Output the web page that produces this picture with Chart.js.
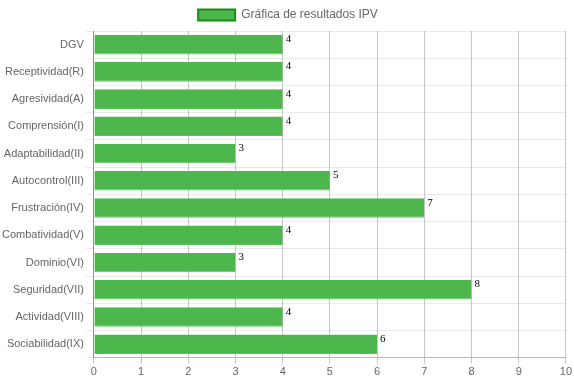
<!DOCTYPE html>
<html>
<head>
<meta charset="utf-8">
<script src="https://cdn.jsdelivr.net/npm/chart.js@4.4.0/dist/chart.umd.min.js"></script>
<style>
  html, body { margin: 0; padding: 0; background: #fff; }
  #wrap { width: 574px; height: 383px; }
</style>
</head>
<body>
<div id="wrap"><canvas id="ipvChart"></canvas></div>
<script>
const categories = ['DGV', 'Receptividad(R)', 'Agresividad(A)', 'Comprensión(I)', 'Adaptabilidad(II)',
    'Autocontrol(III)', 'Frustración(IV)', 'Combatividad(V)', 'Dominio(VI)', 'Seguridad(VII)',
    'Actividad(VIII)', 'Sociabilidad(IX)'];
const scores = [4, 4, 4, 4, 3, 5, 7, 4, 3, 8, 4, 6];
const seriesLabel = 'Gráfica de resultados IPV';

// writes the value just right of each bar end
const valueLabels = {
    id: 'valueLabels',
    afterDatasetsDraw(chart) {
        const ctx = chart.ctx;
        const meta = chart.getDatasetMeta(0);
        ctx.save();
        ctx.font = "11px 'Liberation Serif', serif";
        ctx.fillStyle = '#000';
        ctx.textBaseline = 'top';
        meta.data.forEach((bar, i) => {
            const top = bar.y - bar.height / 2;
            ctx.fillText(scores[i], bar.x + 3, top - 1);
        });
        ctx.restore();
    }
};

Chart.defaults.font.family = "'Liberation Sans', Arial, sans-serif";
Chart.defaults.font.size = 11;
Chart.defaults.color = '#666';

new Chart(document.getElementById('ipvChart'), {
    type: 'bar',
    data: {
        labels: categories,
        datasets: [{
            label: seriesLabel,
            data: scores,
            backgroundColor: '#4db74d',
            borderColor: '#5cc45c',
            borderWidth: { bottom: 1, top: 0, left: 0, right: 0 },
            borderSkipped: false
        }]
    },
    options: {
        indexAxis: 'y',
        responsive: true,
        maintainAspectRatio: false,
        animation: false,
        layout: { padding: { right: -2, bottom: 2, left: 0, top: 1 } },
        plugins: {
            legend: {
                labels: {
                    boxWidth: 37,
                    boxHeight: 11,
                    padding: 8,
                    font: { size: 12 },
                    generateLabels: () => [{
                        text: seriesLabel,
                        fillStyle: '#4db74d',
                        strokeStyle: '#188a18',
                        lineWidth: 2,
                        fontColor: '#666',
                        datasetIndex: 0
                    }]
                }
            },
            tooltip: { enabled: false }
        },
        scales: {
            x: {
                min: 0, max: 10,
                ticks: { stepSize: 1, padding: 2 },
                grid: { color: 'rgba(0,0,0,0.22)', tickLength: 6 },
                border: { color: 'rgba(0,0,0,0.22)' }
            },
            y: {
                ticks: { padding: 2 },
                grid: { color: 'rgba(0,0,0,0.08)' },
                border: { color: 'rgba(0,0,0,0.25)' }
            }
        }
    },
    plugins: [valueLabels]
});
</script>
</body>
</html>
